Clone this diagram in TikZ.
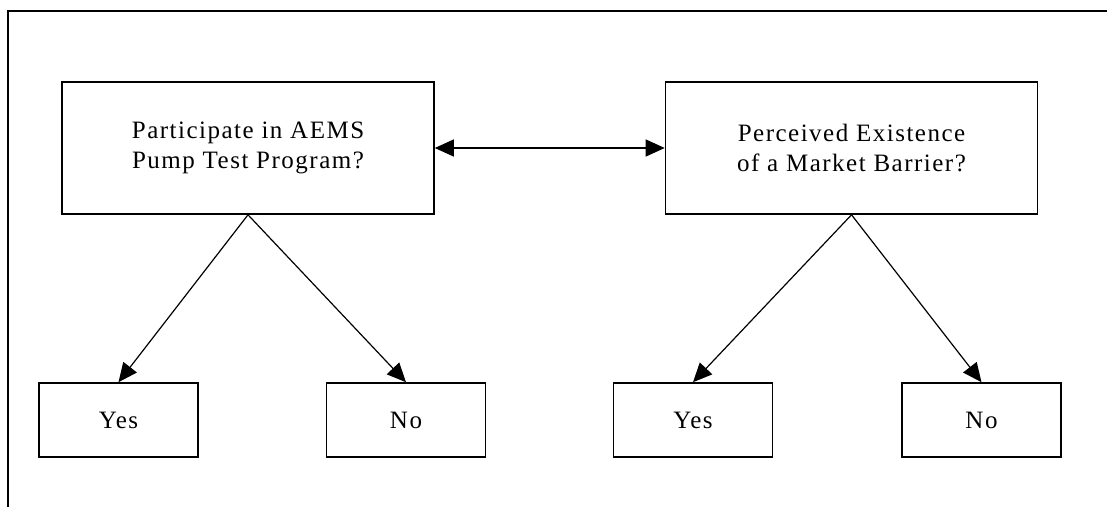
\documentclass[tikz,border=0pt]{standalone}
\usepackage{fontspec}
\setmainfont{Liberation Serif}[LetterSpace=6]
\usetikzlibrary{positioning}
\usetikzlibrary{arrows.meta}

\tikzset{
	qbox/.style={draw, black, line width=1.6pt, minimum width=372pt, minimum height=132pt, align=center, font=\fontsize{25}{30}\selectfont},
	abox/.style={draw, black, line width=1.6pt, minimum width=159pt, minimum height=74pt, font=\fontsize{25}{30}\selectfont},
	link/.style={black, line width=1.2pt, -{Triangle[length=19pt,width=17pt]}}
}

\begin{document}
\begin{tikzpicture}[x=1pt, y=-1pt]
			    		\useasboundingbox (0, 0) rectangle (1107, 507);
			    		\draw[black, line width=1.6pt] (8, 507)--(8, 11)--(1107, 11);
			    		\node[qbox] (pump) at (248, 148) {Participate in AEMS\\Pump Test Program?};
			    		\node[qbox] (barrier) at (851.5, 148) {Perceived Existence\\of a Market Barrier?};
    					\foreach \name/\x/\txt in {pumpyes/118.5/Yes, pumpno/406/No, barrieryes/693/Yes, barrierno/981.5/No}{
    						\node[abox] (\name) at (\x, 420) {\txt};
    					}
			    		\draw[link, {Triangle[length=19pt,width=17pt]}-{Triangle[length=19pt,width=17pt]}] (pump.east)--(barrier.west);
			    		\draw[link] (pump.south)--(pumpyes.north);
			    		\draw[link] (pump.south)--(pumpno.north);
			    		\draw[link] (barrier.south)--(barrieryes.north);
			    		\draw[link] (barrier.south)--(barrierno.north);
			    	\end{tikzpicture}
\end{document}
